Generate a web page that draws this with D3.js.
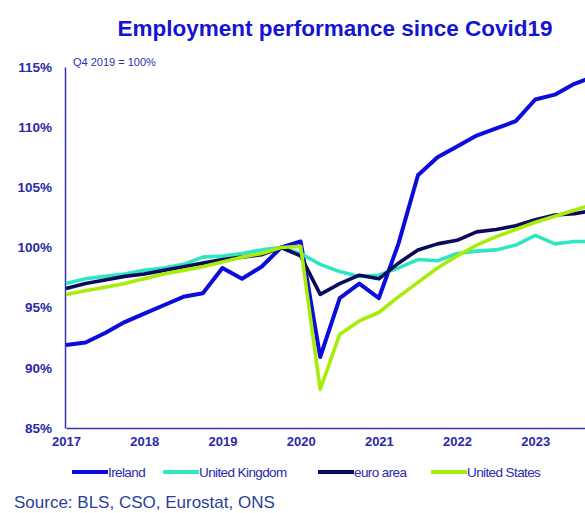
<!DOCTYPE html>
<html><head><meta charset="utf-8">
<script src="https://cdn.jsdelivr.net/npm/d3@7"></script>
<style>body{margin:0;background:#fff}svg{display:block}</style>
</head><body>
<svg id="c" width="585" height="513"></svg>
<script>
const quarters = ["2017Q1","2017Q2","2017Q3","2017Q4","2018Q1","2018Q2","2018Q3","2018Q4",
  "2019Q1","2019Q2","2019Q3","2019Q4","2020Q1","2020Q2","2020Q3","2020Q4",
  "2021Q1","2021Q2","2021Q3","2021Q4","2022Q1","2022Q2","2022Q3","2022Q4",
  "2023Q1","2023Q2","2023Q3","2023Q4"];
const ireland = [91.9,92.1,92.9,93.8, 94.5,95.2,95.9,96.2, 98.3,97.4,98.4,100, 100.5,90.9,95.8,97.0,
  95.8,100.3,106.0,107.5, 108.4,109.3,109.9,110.5, 112.3,112.7,113.6,114.2];
const uk = [97.0,97.4,97.6,97.8, 98.1,98.3,98.6,99.2, 99.3,99.5,99.8,100, 99.5,98.6,98.0,97.6,
  97.7,98.3,99.0,98.9, 99.5,99.7,99.8,100.2, 101.0,100.3,100.5,100.5];
const euroArea = [96.6,97.0,97.3,97.6, 97.8,98.1,98.4,98.7, 99.0,99.2,99.4,100, 99.3,96.1,97.0,97.7,
  97.4,98.7,99.8,100.3, 100.6,101.3,101.5,101.8, 102.3,102.7,102.8,103.1];
const us = [96.1,96.4,96.7,97.0, 97.4,97.8,98.1,98.4, 98.8,99.2,99.5,100, 100.1,88.2,92.8,93.9,
  94.6,95.9,97.1,98.3, 99.3,100.2,100.9,101.5, 102.1,102.6,103.1,103.6];
const seriesNames = ["Ireland","United Kingdom","euro area","United States"];
const seriesColors = ["#0c0cdc","#2fe6c2","#0b0b5e","#a8ec08"];
const yearTicks = [2017,2018,2019,2020,2021,2022,2023];
const yTicks = [85,90,95,100,105,110,115];

const svg = d3.select("#c");
const x = d3.scaleLinear().domain([2017, 2024]).range([66, 613.5]);
const y = d3.scaleLinear().domain([85, 115]).range([428, 67]);
const qx = q => +q.slice(0,4) + (+q.slice(5) - 1) / 4;

// title
svg.append("text").attr("x", 335).attr("y", 36).attr("text-anchor","middle")
  .attr("font-family","Liberation Sans, Arial, sans-serif").attr("font-weight","bold")
  .attr("font-size", 22.5).attr("fill","#1414d2").text("Employment performance since Covid19");

// axes
const axisColor = "#3434b8";
const yAxis = svg.append("g").attr("transform","translate(65,0)")
  .call(d3.axisLeft(y).tickValues(yTicks).tickSize(0).tickPadding(13).tickFormat(d => d + "%"));
yAxis.select(".domain").attr("stroke", axisColor).attr("stroke-width",1.5);
yAxis.selectAll("text").attr("font-family","Liberation Sans, Arial, sans-serif")
  .attr("font-size",13.5).attr("font-weight","bold").attr("fill","#2a2aaa");

const xAxis = svg.append("g").attr("transform","translate(0,428)")
  .call(d3.axisBottom(x).tickValues(yearTicks).tickSize(0).tickPadding(9).tickFormat(d3.format("d")));
xAxis.select(".domain").attr("stroke", axisColor).attr("stroke-width",1.5);
xAxis.selectAll("text").attr("font-family","Liberation Sans, Arial, sans-serif")
  .attr("font-size",13).attr("font-weight","bold").attr("fill","#2a2aaa");

svg.append("text").attr("x",73).attr("y",66).attr("font-family","Liberation Sans, Arial, sans-serif")
  .attr("font-size",11).attr("fill","#2f2fb4").text("Q4 2019 = 100%");

// lines
const allSeries = [ireland, uk, euroArea, us];
const line = d3.line().x((d,i) => x(qx(quarters[i]))).y(d => y(d));
allSeries.forEach((s, k) => {
  svg.append("path").datum(s).attr("d", line).attr("fill","none")
    .attr("stroke", seriesColors[k]).attr("stroke-width", k === 0 ? 4 : 3.6)
    .attr("stroke-linejoin","round");
});

// legend
const legendX = [72, 163, 318, 431];
const lg = svg.append("g");
seriesNames.forEach((n, k) => {
  lg.append("line").attr("x1", legendX[k]).attr("x2", legendX[k] + 36)
    .attr("y1", 472).attr("y2", 472).attr("stroke", seriesColors[k]).attr("stroke-width", 4);
  lg.append("text").attr("x", legendX[k] + 36).attr("y", 476.5)
    .attr("font-family","Liberation Sans, Arial, sans-serif").attr("font-size",13.5)
    .attr("letter-spacing","-0.6").attr("fill","#2a2aaa").text(n);
});

svg.append("text").attr("x",14).attr("y",507.5).attr("font-family","Liberation Sans, Arial, sans-serif")
  .attr("font-size",17).attr("fill","#2b3f98").text("Source: BLS, CSO, Eurostat, ONS");
</script>
</body></html>
